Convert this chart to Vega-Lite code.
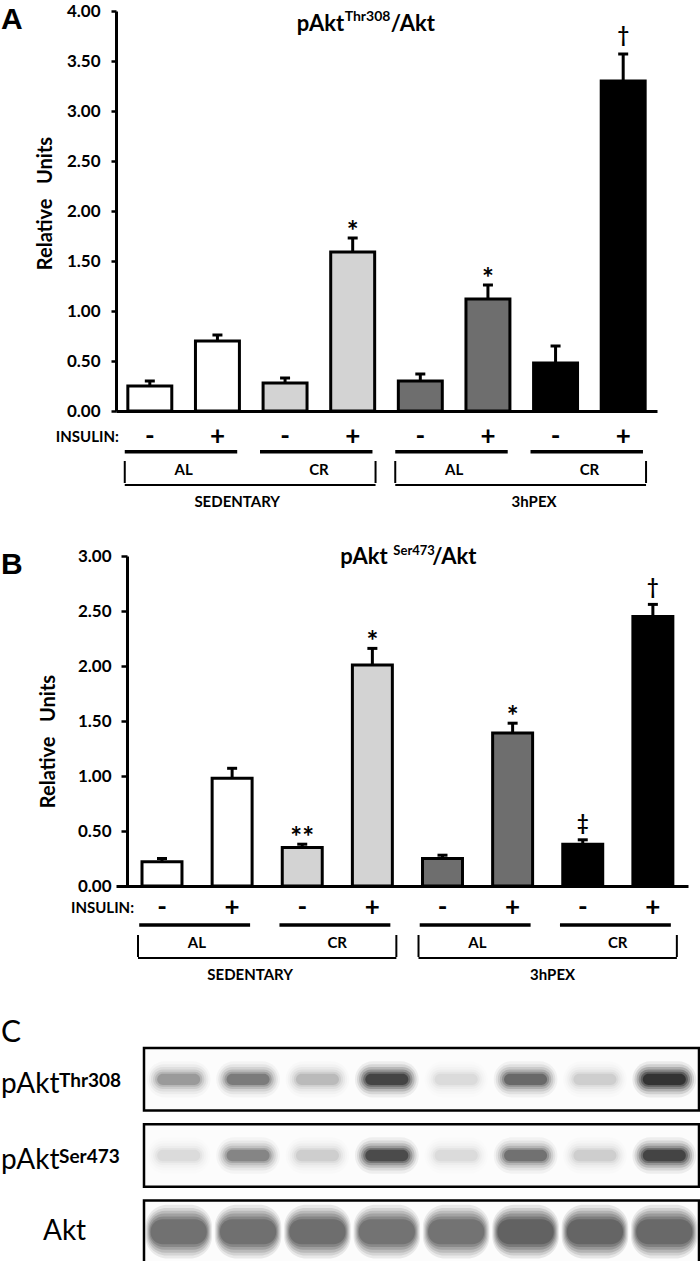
{
  "$schema": "https://vega.github.io/schema/vega-lite/v6.json",
  "padding": {"top": 2, "left": 0, "right": 0, "bottom": 0},
  "background": "white",
  "config": {
    "font": "Lato",
    "view": {"stroke": null},
    "text": {"font": "Lato", "color": "black"},
    "tick": {"opacity": 1},
    "axis": {"domainColor": "black", "domainWidth": 3, "tickColor": "black", "tickWidth": 2.5, "labelColor": "black", "labelFont": "Lato", "labelFontWeight": "bold", "titleColor": "black", "titleFont": "Lato", "titleFontWeight": "bold", "grid": false}
  },
  "datasets": {
    "barsA": [
      {"group": "SED-AL-", "treatment": "SED-AL", "mean": 0.25, "hi": 0.30, "sig": ""},
      {"group": "SED-AL+", "treatment": "SED-AL", "mean": 0.70, "hi": 0.76, "sig": ""},
      {"group": "SED-CR-", "treatment": "SED-CR", "mean": 0.28, "hi": 0.33, "sig": ""},
      {"group": "SED-CR+", "treatment": "SED-CR", "mean": 1.59, "hi": 1.73, "sig": "*"},
      {"group": "PEX-AL-", "treatment": "PEX-AL", "mean": 0.30, "hi": 0.37, "sig": ""},
      {"group": "PEX-AL+", "treatment": "PEX-AL", "mean": 1.12, "hi": 1.26, "sig": "*"},
      {"group": "PEX-CR-", "treatment": "PEX-CR", "mean": 0.48, "hi": 0.65, "sig": ""},
      {"group": "PEX-CR+", "treatment": "PEX-CR", "mean": 3.30, "hi": 3.57, "sig": "†"}
    ],
    "barsB": [
      {"group": "SED-AL-", "treatment": "SED-AL", "mean": 0.22, "hi": 0.25, "sig": ""},
      {"group": "SED-AL+", "treatment": "SED-AL", "mean": 0.98, "hi": 1.07, "sig": ""},
      {"group": "SED-CR-", "treatment": "SED-CR", "mean": 0.35, "hi": 0.38, "sig": "**"},
      {"group": "SED-CR+", "treatment": "SED-CR", "mean": 2.01, "hi": 2.16, "sig": "*"},
      {"group": "PEX-AL-", "treatment": "PEX-AL", "mean": 0.25, "hi": 0.28, "sig": ""},
      {"group": "PEX-AL+", "treatment": "PEX-AL", "mean": 1.39, "hi": 1.48, "sig": "*"},
      {"group": "PEX-CR-", "treatment": "PEX-CR", "mean": 0.38, "hi": 0.42, "sig": "‡"},
      {"group": "PEX-CR+", "treatment": "PEX-CR", "mean": 2.45, "hi": 2.56, "sig": "†"}
    ],
    "signs": [
      {"group": "SED-AL-", "insulin": "-"}, {"group": "SED-AL+", "insulin": "+"},
      {"group": "SED-CR-", "insulin": "-"}, {"group": "SED-CR+", "insulin": "+"},
      {"group": "PEX-AL-", "insulin": "-"}, {"group": "PEX-AL+", "insulin": "+"},
      {"group": "PEX-CR-", "insulin": "-"}, {"group": "PEX-CR+", "insulin": "+"}
    ],
    "pairs": [
      {"from": "SED-AL-", "to": "SED-AL+", "diet": "AL"},
      {"from": "SED-CR-", "to": "SED-CR+", "diet": "CR"},
      {"from": "PEX-AL-", "to": "PEX-AL+", "diet": "AL"},
      {"from": "PEX-CR-", "to": "PEX-CR+", "diet": "CR"}
    ],
    "brackets": [
      {"from": "SED-AL-", "to": "SED-CR+", "condition": "SEDENTARY"},
      {"from": "PEX-AL-", "to": "PEX-CR+", "condition": "3hPEX"}
    ],
    "titles": [
      {"panel": "A", "name": "pAkt", "site": "Thr308", "ratio": "/Akt"},
      {"panel": "B", "name": "pAkt", "site": "Ser473", "ratio": "/Akt"}
    ],
    "panels": [{"panel": "A"}, {"panel": "B"}, {"panel": "C"}],
    "proteins": [
      {"protein": "Thr308", "name": "pAkt", "site": "Thr308"},
      {"protein": "Ser473", "name": "pAkt", "site": "Ser473"},
      {"protein": "Akt", "name": "Akt", "site": ""}
    ],
    "blot": [
      {"protein": "Thr308", "lane": "1", "intensity": 0.35},
      {"protein": "Thr308", "lane": "2", "intensity": 0.5},
      {"protein": "Thr308", "lane": "3", "intensity": 0.22},
      {"protein": "Thr308", "lane": "4", "intensity": 0.85},
      {"protein": "Thr308", "lane": "5", "intensity": 0.1},
      {"protein": "Thr308", "lane": "6", "intensity": 0.6},
      {"protein": "Thr308", "lane": "7", "intensity": 0.15},
      {"protein": "Thr308", "lane": "8", "intensity": 1.0},
      {"protein": "Ser473", "lane": "1", "intensity": 0.1},
      {"protein": "Ser473", "lane": "2", "intensity": 0.45},
      {"protein": "Ser473", "lane": "3", "intensity": 0.15},
      {"protein": "Ser473", "lane": "4", "intensity": 0.8},
      {"protein": "Ser473", "lane": "5", "intensity": 0.1},
      {"protein": "Ser473", "lane": "6", "intensity": 0.55},
      {"protein": "Ser473", "lane": "7", "intensity": 0.15},
      {"protein": "Ser473", "lane": "8", "intensity": 0.85},
      {"protein": "Akt", "lane": "1", "intensity": 0.76},
      {"protein": "Akt", "lane": "2", "intensity": 0.77},
      {"protein": "Akt", "lane": "3", "intensity": 0.79},
      {"protein": "Akt", "lane": "4", "intensity": 0.74},
      {"protein": "Akt", "lane": "5", "intensity": 0.74},
      {"protein": "Akt", "lane": "6", "intensity": 0.88},
      {"protein": "Akt", "lane": "7", "intensity": 0.85},
      {"protein": "Akt", "lane": "8", "intensity": 0.82}
    ]
  },
  "vconcat": [
    {
      "vconcat": [
        {
          "width": 541,
          "height": 400,
          "layer": [
            {
              "data": {"name": "barsA"},
              "mark": {"type": "bar", "stroke": "black", "strokeWidth": 3},
              "encoding": {
                "x": {"field": "group", "type": "nominal", "scale": {"type": "band", "domain": ["SED-AL-", "SED-AL+", "SED-CR-", "SED-CR+", "PEX-AL-", "PEX-AL+", "PEX-CR-", "PEX-CR+"], "paddingInner": 0.35, "paddingOuter": 0.175}, "axis": {"domain": true, "ticks": false, "labels": false, "title": null}},
                "y": {"field": "mean", "type": "quantitative", "scale": {"domain": [0, 4]}, "axis": {"values": [0, 0.5, 1, 1.5, 2, 2.5, 3, 3.5, 4], "format": ".2f", "title": "Relative\u00a0\u00a0\u00a0Units", "titleFontSize": 20, "titlePadding": 11, "titleY": 192, "labelFontSize": 17, "labelPadding": 11, "tickSize": 5}},
                "fill": {"field": "treatment", "type": "nominal", "scale": {"domain": ["SED-AL", "SED-CR", "PEX-AL", "PEX-CR"], "range": ["#ffffff", "#d3d3d3", "#6e6e6e", "#000000"]}, "legend": null}
              }
            },
            {
              "data": {"name": "barsA"},
              "mark": {"type": "rule", "color": "black", "strokeWidth": 3},
              "encoding": {"x": {"field": "group", "type": "nominal"}, "y": {"field": "mean", "type": "quantitative"}, "y2": {"field": "hi"}}
            },
            {
              "data": {"name": "barsA"},
              "mark": {"type": "tick", "orient": "horizontal", "color": "black", "size": 10, "thickness": 3, "opacity": 1},
              "encoding": {"x": {"field": "group", "type": "nominal"}, "y": {"field": "hi", "type": "quantitative"}}
            },
            {
              "data": {"name": "barsA"},
              "transform": [{"filter": "datum.sig === '*' || datum.sig === '**'"}],
              "mark": {"type": "text", "fontSize": 28, "fontWeight": "bold", "baseline": "alphabetic", "dy": 3},
              "encoding": {"x": {"field": "group", "type": "nominal"}, "y": {"field": "hi", "type": "quantitative"}, "text": {"field": "sig"}}
            },
            {
              "data": {"name": "barsA"},
              "transform": [{"filter": "datum.sig === '†' || datum.sig === '‡'"}],
              "mark": {"type": "text", "fontSize": 20, "fontWeight": "bold", "baseline": "alphabetic", "dy": -12},
              "encoding": {"x": {"field": "group", "type": "nominal"}, "y": {"field": "hi", "type": "quantitative"}, "text": {"field": "sig"}}
            },
            {
              "data": {"name": "titles"},
              "transform": [{"filter": "datum.panel === 'A'"}],
              "mark": {"type": "text", "fontSize": 22, "fontWeight": "bold", "align": "left", "baseline": "alphabetic", "dx": -56},
              "encoding": {"x": {"datum": "SED-CR+"}, "y": {"datum": 3.8}, "text": {"field": "name"}}
            },
            {
              "data": {"name": "titles"},
              "transform": [{"filter": "datum.panel === 'A'"}],
              "mark": {"type": "text", "fontSize": 14, "fontWeight": "bold", "align": "left", "baseline": "alphabetic", "dx": -8, "dy": -10},
              "encoding": {"x": {"datum": "SED-CR+"}, "y": {"datum": 3.8}, "text": {"field": "site"}}
            },
            {
              "data": {"name": "titles"},
              "transform": [{"filter": "datum.panel === 'A'"}],
              "mark": {"type": "text", "fontSize": 22, "fontWeight": "bold", "align": "left", "baseline": "alphabetic", "dx": 38},
              "encoding": {"x": {"datum": "SED-CR+"}, "y": {"datum": 3.8}, "text": {"field": "ratio"}}
            },
            {
              "data": {"name": "panels"},
              "transform": [{"filter": "datum.panel === 'A'"}],
              "mark": {"type": "text", "font": "Liberation Sans", "fontSize": 30, "fontWeight": "bold", "align": "left", "baseline": "top", "dx": -126.83, "dy": -6},
              "encoding": {"x": {"datum": "SED-AL-", "bandPosition": 0}, "y": {"datum": 4}, "text": {"field": "panel"}}
            }
          ]
        },
        {
          "width": 541,
          "height": 106,
          "layer": [
            {
              "data": {"name": "signs"},
              "mark": {"type": "text", "fontSize": 26, "fontWeight": "bold", "baseline": "middle"},
              "encoding": {
                "x": {"field": "group", "type": "nominal", "scale": {"type": "band", "domain": ["SED-AL-", "SED-AL+", "SED-CR-", "SED-CR+", "PEX-AL-", "PEX-AL+", "PEX-CR-", "PEX-CR+"], "paddingInner": 0.35, "paddingOuter": 0.175}, "axis": null},
                "y": {"datum": "insulin", "bandPosition": 0.51, "scale": {"type": "band", "domain": ["insulin", "diet", "cond"], "paddingInner": 0, "paddingOuter": 0}, "axis": null},
                "text": {"field": "insulin"}
              }
            },
            {
              "data": {"values": [{"label": "INSULIN:"}]},
              "mark": {"type": "text", "fontSize": 15, "fontWeight": "bold", "baseline": "middle", "align": "right", "dx": -9},
              "encoding": {"x": {"datum": "SED-AL-", "bandPosition": 0}, "y": {"datum": "insulin", "bandPosition": 0.51}, "text": {"field": "label"}}
            },
            {
              "data": {"name": "pairs"},
              "mark": {"type": "rule", "strokeWidth": 3.5, "color": "black"},
              "encoding": {"x": {"field": "from", "type": "nominal", "bandPosition": -0.07}, "x2": {"field": "to", "bandPosition": 0.95}, "y": {"datum": "insulin", "bandPosition": 0.93}}
            },
            {
              "data": {"name": "pairs"},
              "mark": {"type": "text", "fontSize": 15, "fontWeight": "bold", "baseline": "middle"},
              "encoding": {"x": {"field": "from", "type": "nominal", "bandPosition": 1.27}, "y": {"datum": "diet", "bandPosition": 0.443}, "text": {"field": "diet"}}
            },
            {
              "data": {"name": "brackets"},
              "mark": {"type": "rule", "strokeWidth": 2, "color": "black"},
              "encoding": {"x": {"field": "from", "type": "nominal", "bandPosition": -0.07}, "x2": {"field": "to", "bandPosition": 1.02}, "y": {"datum": "diet", "bandPosition": 0.868}}
            },
            {
              "data": {"name": "brackets"},
              "mark": {"type": "tick", "orient": "vertical", "size": 22, "thickness": 2, "color": "black", "opacity": 1},
              "encoding": {"x": {"field": "from", "type": "nominal", "bandPosition": -0.07}, "y": {"datum": "diet", "bandPosition": 0.557}}
            },
            {
              "data": {"name": "brackets"},
              "mark": {"type": "tick", "orient": "vertical", "size": 22, "thickness": 2, "color": "black", "opacity": 1},
              "encoding": {"x": {"field": "to", "type": "nominal", "bandPosition": 1.02}, "y": {"datum": "diet", "bandPosition": 0.557}}
            },
            {
              "data": {"name": "brackets"},
              "transform": [{"filter": "datum.condition === 'SEDENTARY'"}],
              "mark": {"type": "text", "fontSize": 15, "fontWeight": "bold", "baseline": "middle"},
              "encoding": {"x": {"datum": "SED-AL+", "bandPosition": 0.95}, "y": {"datum": "cond", "bandPosition": 0.349}, "text": {"field": "condition"}}
            },
            {
              "data": {"name": "brackets"},
              "transform": [{"filter": "datum.condition === '3hPEX'"}],
              "mark": {"type": "text", "fontSize": 15, "fontWeight": "bold", "baseline": "middle"},
              "encoding": {"x": {"datum": "PEX-AL+", "bandPosition": 1.55}, "y": {"datum": "cond", "bandPosition": 0.349}, "text": {"field": "condition"}}
            }
          ]
        }
      ],
      "spacing": 0
    },
    {
      "vconcat": [
        {
          "width": 572,
          "height": 330,
          "layer": [
            {
              "data": {"name": "barsB"},
              "mark": {"type": "bar", "stroke": "black", "strokeWidth": 3},
              "encoding": {
                "x": {"field": "group", "type": "nominal", "scale": {"type": "band", "domain": ["SED-AL-", "SED-AL+", "SED-CR-", "SED-CR+", "PEX-AL-", "PEX-AL+", "PEX-CR-", "PEX-CR+"], "paddingInner": 0.43, "paddingOuter": 0.2934, "align": 0.632}, "axis": {"domain": true, "ticks": false, "labels": false, "title": null}},
                "y": {"field": "mean", "type": "quantitative", "scale": {"domain": [0, 3]}, "axis": {"offset": -11, "values": [0, 0.5, 1, 1.5, 2, 2.5, 3], "format": ".2f", "title": "Relative\u00a0\u00a0\u00a0Units", "titleFontSize": 20, "titlePadding": 19, "titleY": 185, "labelFontSize": 17, "labelPadding": 10, "tickSize": 6}},
                "fill": {"field": "treatment", "type": "nominal", "scale": {"domain": ["SED-AL", "SED-CR", "PEX-AL", "PEX-CR"], "range": ["#ffffff", "#d3d3d3", "#6e6e6e", "#000000"]}, "legend": null}
              }
            },
            {
              "data": {"name": "barsB"},
              "mark": {"type": "rule", "color": "black", "strokeWidth": 3},
              "encoding": {"x": {"field": "group", "type": "nominal"}, "y": {"field": "mean", "type": "quantitative"}, "y2": {"field": "hi"}}
            },
            {
              "data": {"name": "barsB"},
              "mark": {"type": "tick", "orient": "horizontal", "color": "black", "size": 10, "thickness": 3, "opacity": 1},
              "encoding": {"x": {"field": "group", "type": "nominal"}, "y": {"field": "hi", "type": "quantitative"}}
            },
            {
              "data": {"name": "barsB"},
              "transform": [{"filter": "datum.sig === '*' || datum.sig === '**'"}],
              "mark": {"type": "text", "fontSize": 28, "fontWeight": "bold", "baseline": "alphabetic", "dy": 3},
              "encoding": {"x": {"field": "group", "type": "nominal"}, "y": {"field": "hi", "type": "quantitative"}, "text": {"field": "sig"}}
            },
            {
              "data": {"name": "barsB"},
              "transform": [{"filter": "datum.sig === '†' || datum.sig === '‡'"}],
              "mark": {"type": "text", "fontSize": 20, "fontWeight": "bold", "baseline": "alphabetic", "dy": -10},
              "encoding": {"x": {"field": "group", "type": "nominal"}, "y": {"field": "hi", "type": "quantitative"}, "text": {"field": "sig"}}
            },
            {
              "data": {"name": "titles"},
              "transform": [{"filter": "datum.panel === 'B'"}],
              "mark": {"type": "text", "fontSize": 22, "fontWeight": "bold", "align": "left", "baseline": "alphabetic", "dx": -32},
              "encoding": {"x": {"datum": "SED-CR+"}, "y": {"datum": 2.93}, "text": {"field": "name"}}
            },
            {
              "data": {"name": "titles"},
              "transform": [{"filter": "datum.panel === 'B'"}],
              "mark": {"type": "text", "fontSize": 13, "fontWeight": "bold", "align": "left", "baseline": "alphabetic", "dx": 21, "dy": -9},
              "encoding": {"x": {"datum": "SED-CR+"}, "y": {"datum": 2.93}, "text": {"field": "site"}}
            },
            {
              "data": {"name": "titles"},
              "transform": [{"filter": "datum.panel === 'B'"}],
              "mark": {"type": "text", "fontSize": 22, "fontWeight": "bold", "align": "left", "baseline": "alphabetic", "dx": 60},
              "encoding": {"x": {"datum": "SED-CR+"}, "y": {"datum": 2.93}, "text": {"field": "ratio"}}
            },
            {
              "data": {"name": "panels"},
              "transform": [{"filter": "datum.panel === 'B'"}],
              "mark": {"type": "text", "font": "Liberation Sans", "fontSize": 30, "fontWeight": "bold", "align": "left", "baseline": "top", "dx": -141, "dy": -6},
              "encoding": {"x": {"datum": "SED-AL-", "bandPosition": 0}, "y": {"datum": 3}, "text": {"field": "panel"}}
            }
          ]
        },
        {
          "width": 572,
          "height": 104,
          "layer": [
            {
              "data": {"name": "signs"},
              "mark": {"type": "text", "fontSize": 26, "fontWeight": "bold", "baseline": "middle"},
              "encoding": {
                "x": {"field": "group", "type": "nominal", "scale": {"type": "band", "domain": ["SED-AL-", "SED-AL+", "SED-CR-", "SED-CR+", "PEX-AL-", "PEX-AL+", "PEX-CR-", "PEX-CR+"], "paddingInner": 0.43, "paddingOuter": 0.2934, "align": 0.632}, "axis": null},
                "y": {"datum": "insulin", "bandPosition": 0.404, "scale": {"type": "band", "domain": ["insulin", "diet", "cond"], "paddingInner": 0, "paddingOuter": 0}, "axis": null},
                "text": {"field": "insulin"}
              }
            },
            {
              "data": {"values": [{"label": "INSULIN:"}]},
              "mark": {"type": "text", "fontSize": 15, "fontWeight": "bold", "baseline": "middle", "align": "right", "dx": -8},
              "encoding": {"x": {"datum": "SED-AL-", "bandPosition": 0}, "y": {"datum": "insulin", "bandPosition": 0.404}, "text": {"field": "label"}}
            },
            {
              "data": {"name": "pairs"},
              "mark": {"type": "rule", "strokeWidth": 3.5, "color": "black"},
              "encoding": {"x": {"field": "from", "type": "nominal", "bandPosition": -0.07}, "x2": {"field": "to", "bandPosition": 0.95}, "y": {"datum": "insulin", "bandPosition": 0.894}}
            },
            {
              "data": {"name": "pairs"},
              "mark": {"type": "text", "fontSize": 15, "fontWeight": "bold", "baseline": "middle"},
              "encoding": {"x": {"field": "from", "type": "nominal", "bandPosition": 1.375}, "y": {"datum": "diet", "bandPosition": 0.413}, "text": {"field": "diet"}}
            },
            {
              "data": {"name": "brackets"},
              "mark": {"type": "rule", "strokeWidth": 2, "color": "black"},
              "encoding": {"x": {"field": "from", "type": "nominal", "bandPosition": -0.1}, "x2": {"field": "to", "bandPosition": 1.1}, "y": {"datum": "diet", "bandPosition": 0.846}}
            },
            {
              "data": {"name": "brackets"},
              "mark": {"type": "tick", "orient": "vertical", "size": 22, "thickness": 2, "color": "black", "opacity": 1},
              "encoding": {"x": {"field": "from", "type": "nominal", "bandPosition": -0.1}, "y": {"datum": "diet", "bandPosition": 0.529}}
            },
            {
              "data": {"name": "brackets"},
              "mark": {"type": "tick", "orient": "vertical", "size": 22, "thickness": 2, "color": "black", "opacity": 1},
              "encoding": {"x": {"field": "to", "type": "nominal", "bandPosition": 1.1}, "y": {"datum": "diet", "bandPosition": 0.529}}
            },
            {
              "data": {"name": "brackets"},
              "transform": [{"filter": "datum.condition === 'SEDENTARY'"}],
              "mark": {"type": "text", "fontSize": 15, "fontWeight": "bold", "baseline": "middle"},
              "encoding": {"x": {"datum": "SED-AL+", "bandPosition": 0.95}, "y": {"datum": "cond", "bandPosition": 0.337}, "text": {"field": "condition"}}
            },
            {
              "data": {"name": "brackets"},
              "transform": [{"filter": "datum.condition === '3hPEX'"}],
              "mark": {"type": "text", "fontSize": 15, "fontWeight": "bold", "baseline": "middle"},
              "encoding": {"x": {"datum": "PEX-AL+", "bandPosition": 1.5}, "y": {"datum": "cond", "bandPosition": 0.337}, "text": {"field": "condition"}}
            }
          ]
        }
      ],
      "spacing": 0
    },
    {
      "width": 583,
      "height": 215,
      "resolve": {"scale": {"opacity": "independent"}},
      "layer": [
        {
          "data": {"name": "proteins"},
          "mark": {"type": "rect", "fill": "#fcfcfc", "stroke": "black", "strokeWidth": 2.5},
          "encoding": {
            "x": {"datum": "1", "bandPosition": 0, "scale": {"type": "band", "domain": ["1", "2", "3", "4", "5", "6", "7", "8"], "paddingInner": 0, "paddingOuter": 0.2018, "align": 1}, "axis": null},
            "x2": {"datum": "8", "bandPosition": 1},
            "y": {"field": "protein", "type": "nominal", "scale": {"type": "band", "domain": ["Thr308", "Ser473", "Akt"], "paddingInner": 0.18, "paddingOuter": 0}, "axis": null}
          }
        },
        {
          "data": {"name": "blot"},
          "transform": [{"filter": "datum.protein !== 'Akt'"}],
          "mark": {"type": "rect", "width": {"band": 0.92}, "height": {"band": 0.58}, "cornerRadius": 18, "color": "black"},
          "encoding": {"x": {"field": "lane", "type": "nominal"}, "y": {"field": "protein", "type": "nominal"}, "opacity": {"field": "intensity", "type": "quantitative", "scale": {"domain": [0, 1], "range": [0, 0.07]}, "legend": null}}
        },
        {
          "data": {"name": "blot"},
          "transform": [{"filter": "datum.protein !== 'Akt'"}],
          "mark": {"type": "rect", "width": {"band": 0.86}, "height": {"band": 0.48}, "cornerRadius": 15, "color": "black"},
          "encoding": {"x": {"field": "lane", "type": "nominal"}, "y": {"field": "protein", "type": "nominal"}, "opacity": {"field": "intensity", "type": "quantitative", "scale": {"domain": [0, 1], "range": [0, 0.11]}, "legend": null}}
        },
        {
          "data": {"name": "blot"},
          "transform": [{"filter": "datum.protein !== 'Akt'"}],
          "mark": {"type": "rect", "width": {"band": 0.8}, "height": {"band": 0.39}, "cornerRadius": 12, "color": "black"},
          "encoding": {"x": {"field": "lane", "type": "nominal"}, "y": {"field": "protein", "type": "nominal"}, "opacity": {"field": "intensity", "type": "quantitative", "scale": {"domain": [0, 1], "range": [0, 0.16]}, "legend": null}}
        },
        {
          "data": {"name": "blot"},
          "transform": [{"filter": "datum.protein !== 'Akt'"}],
          "mark": {"type": "rect", "width": {"band": 0.74}, "height": {"band": 0.31}, "cornerRadius": 10, "color": "black"},
          "encoding": {"x": {"field": "lane", "type": "nominal"}, "y": {"field": "protein", "type": "nominal"}, "opacity": {"field": "intensity", "type": "quantitative", "scale": {"domain": [0, 1], "range": [0, 0.22]}, "legend": null}}
        },
        {
          "data": {"name": "blot"},
          "transform": [{"filter": "datum.protein !== 'Akt'"}],
          "mark": {"type": "rect", "width": {"band": 0.68}, "height": {"band": 0.24}, "cornerRadius": 8, "color": "black"},
          "encoding": {"x": {"field": "lane", "type": "nominal"}, "y": {"field": "protein", "type": "nominal"}, "opacity": {"field": "intensity", "type": "quantitative", "scale": {"domain": [0, 1], "range": [0, 0.3]}, "legend": null}}
        },
        {
          "data": {"name": "blot"},
          "transform": [{"filter": "datum.protein !== 'Akt'"}],
          "mark": {"type": "rect", "width": {"band": 0.62}, "height": {"band": 0.18}, "cornerRadius": 6, "color": "black"},
          "encoding": {"x": {"field": "lane", "type": "nominal"}, "y": {"field": "protein", "type": "nominal"}, "opacity": {"field": "intensity", "type": "quantitative", "scale": {"domain": [0, 1], "range": [0, 0.45]}, "legend": null}}
        },
        {
          "data": {"name": "blot"},
          "transform": [{"filter": "datum.protein === 'Akt'"}],
          "mark": {"type": "rect", "width": {"band": 0.96}, "height": {"band": 0.86}, "cornerRadius": 22, "color": "black"},
          "encoding": {"x": {"field": "lane", "type": "nominal"}, "y": {"field": "protein", "type": "nominal"}, "opacity": {"field": "intensity", "type": "quantitative", "scale": {"domain": [0, 1], "range": [0, 0.1]}, "legend": null}}
        },
        {
          "data": {"name": "blot"},
          "transform": [{"filter": "datum.protein === 'Akt'"}],
          "mark": {"type": "rect", "width": {"band": 0.93}, "height": {"band": 0.76}, "cornerRadius": 20, "color": "black"},
          "encoding": {"x": {"field": "lane", "type": "nominal"}, "y": {"field": "protein", "type": "nominal"}, "opacity": {"field": "intensity", "type": "quantitative", "scale": {"domain": [0, 1], "range": [0, 0.12]}, "legend": null}}
        },
        {
          "data": {"name": "blot"},
          "transform": [{"filter": "datum.protein === 'Akt'"}],
          "mark": {"type": "rect", "width": {"band": 0.9}, "height": {"band": 0.67}, "cornerRadius": 18, "color": "black"},
          "encoding": {"x": {"field": "lane", "type": "nominal"}, "y": {"field": "protein", "type": "nominal"}, "opacity": {"field": "intensity", "type": "quantitative", "scale": {"domain": [0, 1], "range": [0, 0.15]}, "legend": null}}
        },
        {
          "data": {"name": "blot"},
          "transform": [{"filter": "datum.protein === 'Akt'"}],
          "mark": {"type": "rect", "width": {"band": 0.87}, "height": {"band": 0.58}, "cornerRadius": 16, "color": "black"},
          "encoding": {"x": {"field": "lane", "type": "nominal"}, "y": {"field": "protein", "type": "nominal"}, "opacity": {"field": "intensity", "type": "quantitative", "scale": {"domain": [0, 1], "range": [0, 0.18]}, "legend": null}}
        },
        {
          "data": {"name": "blot"},
          "transform": [{"filter": "datum.protein === 'Akt'"}],
          "mark": {"type": "rect", "width": {"band": 0.84}, "height": {"band": 0.49}, "cornerRadius": 14, "color": "black"},
          "encoding": {"x": {"field": "lane", "type": "nominal"}, "y": {"field": "protein", "type": "nominal"}, "opacity": {"field": "intensity", "type": "quantitative", "scale": {"domain": [0, 1], "range": [0, 0.2]}, "legend": null}}
        },
        {
          "data": {"name": "blot"},
          "transform": [{"filter": "datum.protein === 'Akt'"}],
          "mark": {"type": "rect", "width": {"band": 0.81}, "height": {"band": 0.4}, "cornerRadius": 12, "color": "black"},
          "encoding": {"x": {"field": "lane", "type": "nominal"}, "y": {"field": "protein", "type": "nominal"}, "opacity": {"field": "intensity", "type": "quantitative", "scale": {"domain": [0, 1], "range": [0, 0.22]}, "legend": null}}
        },
        {
          "data": {"name": "panels"},
          "transform": [{"filter": "datum.panel === 'C'"}],
          "mark": {"type": "text", "fontSize": 30, "align": "left", "baseline": "alphabetic", "dx": -143, "dy": -6},
          "encoding": {"x": {"datum": "1", "bandPosition": 0}, "y": {"datum": "Thr308", "bandPosition": 0}, "text": {"field": "panel"}}
        },
        {
          "data": {"name": "proteins"},
          "transform": [{"filter": "datum.protein !== 'Akt'"}],
          "mark": {"type": "text", "fontSize": 28, "align": "left", "baseline": "alphabetic", "dx": -143},
          "encoding": {"x": {"datum": "1", "bandPosition": 0}, "y": {"field": "protein", "type": "nominal", "bandPosition": 0.72}, "text": {"field": "name"}}
        },
        {
          "data": {"name": "proteins"},
          "transform": [{"filter": "datum.protein !== 'Akt'"}],
          "mark": {"type": "text", "fontSize": 19, "fontWeight": "bold", "align": "left", "baseline": "alphabetic", "dx": -85, "dy": -6},
          "encoding": {"x": {"datum": "1", "bandPosition": 0}, "y": {"field": "protein", "type": "nominal", "bandPosition": 0.72}, "text": {"field": "site"}}
        },
        {
          "data": {"name": "proteins"},
          "transform": [{"filter": "datum.protein === 'Akt'"}],
          "mark": {"type": "text", "fontSize": 28, "align": "left", "baseline": "alphabetic", "dx": -101},
          "encoding": {"x": {"datum": "1", "bandPosition": 0}, "y": {"field": "protein", "type": "nominal", "bandPosition": 0.64}, "text": {"field": "name"}}
        }
      ]
    }
  ],
  "spacing": 19
}
